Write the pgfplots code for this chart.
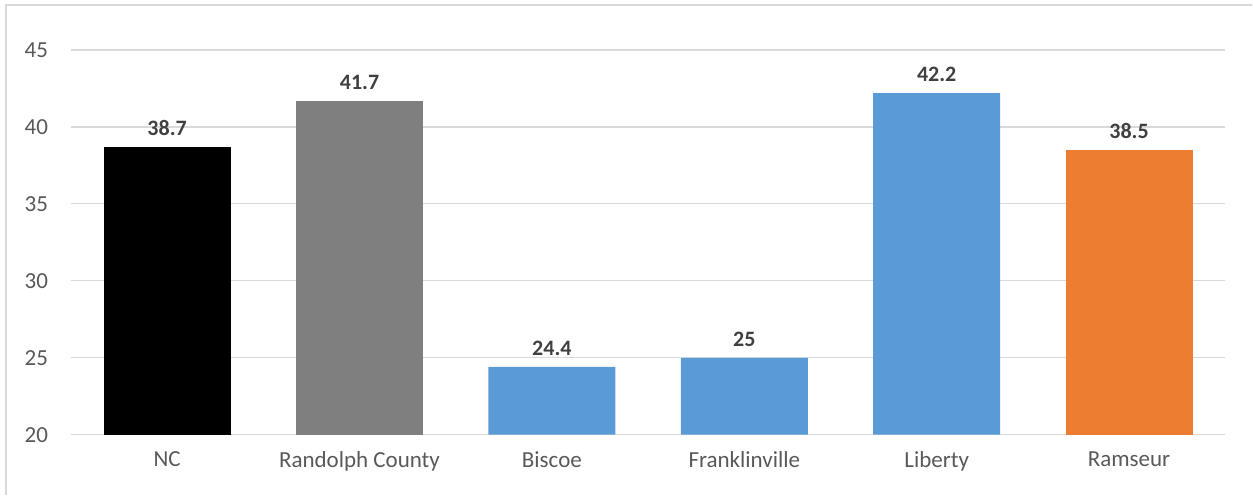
\documentclass[border=0pt]{standalone}
\usepackage{pgfplots}
\pgfplotsset{compat=1.18}
\usepackage{fontspec}
\setmainfont{Carlito}
\definecolor{cblk}{HTML}{000000}
\definecolor{cgry}{HTML}{7F7F7F}
\definecolor{cblu}{HTML}{5B9BD5}
\definecolor{corg}{HTML}{ED7D31}
\definecolor{grid}{HTML}{D9D9D9}
\definecolor{txt}{HTML}{595959}
\definecolor{lbl}{HTML}{404040}
\begin{document}
\begin{tikzpicture}
\begin{axis}[
  at={(0,0)}, anchor=south west,
  scale only axis,
  width=577.5pt, height=192.5pt,
  xmin=-0.5, xmax=5.5,
  ymin=20, ymax=45,
  ytick={20,25,30,35,40,45},
  xtick={0,1,2,3,4,5},
  xticklabels={NC,Randolph County,Biscoe,Franklinville,Liberty,Ramseur},
  ymajorgrids, xmajorgrids=false,
  grid style={draw=grid, line width=0.6pt},
  axis line style={draw=none},
  major tick length=0pt,
  ticklabel style={font=\fontsize{11.5}{13}\selectfont, text=txt},
  yticklabel style={xshift=-8pt},
  xticklabel style={yshift=-5pt},
  /pgf/number format/assume math mode=true,
  ybar, bar width=0.66, bar shift=0pt,
  nodes near coords,
  every node near coord/.append style={font=\fontsize{11}{13}\selectfont\bfseries, text=lbl, yshift=2pt},
  clip=false,
]
\addplot[fill=cblk, draw=none] coordinates {(0,38.7)};
\addplot[fill=cgry, draw=none] coordinates {(1,41.7)};
\addplot[fill=cblu, draw=none] coordinates {(2,24.4) (3,25) (4,42.2)};
\addplot[fill=corg, draw=none] coordinates {(5,38.5)};
\end{axis}
\draw[grid, line width=0.8pt] (-32.5pt,-30pt) -- (-32.5pt,215pt) -- (591pt,215pt);
\useasboundingbox (-35.5pt,-30pt) rectangle (591pt,217.5pt);
\end{tikzpicture}
\end{document}
